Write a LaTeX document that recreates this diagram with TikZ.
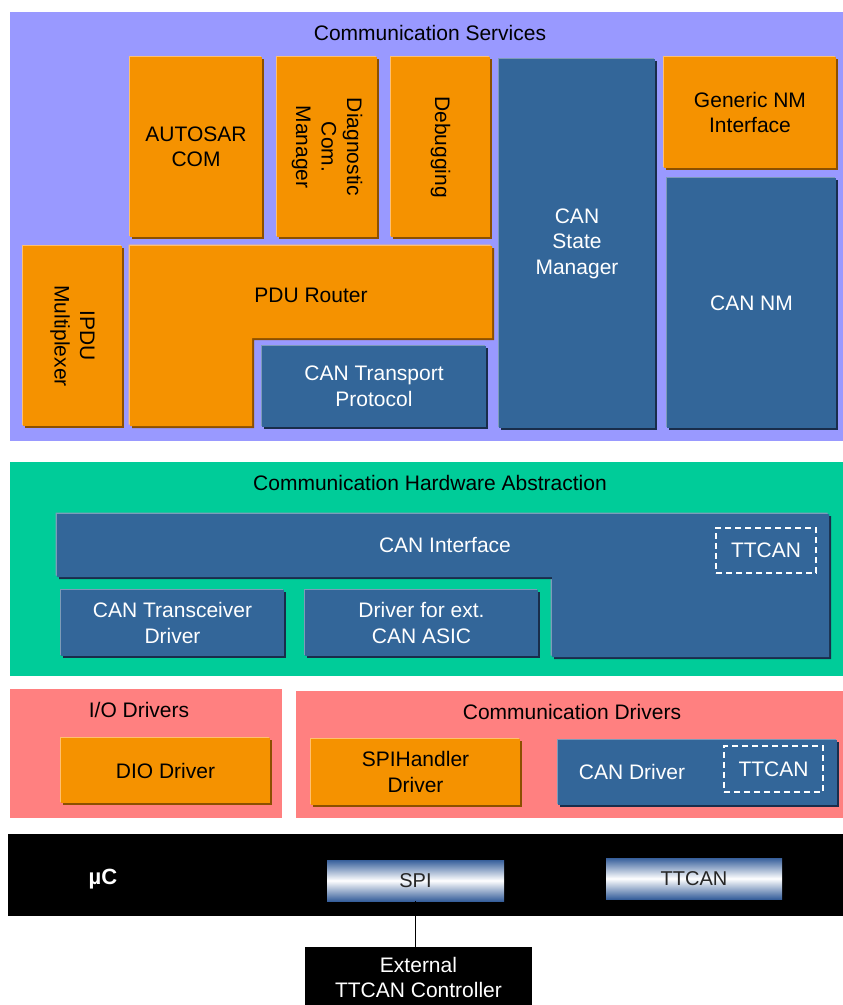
\documentclass[tikz,border=0pt]{standalone}
\usepackage{fontspec}
\setmainfont{Liberation Sans}
\usetikzlibrary{shadows,positioning}
\definecolor{svcpurple}{RGB}{153,153,255}
\definecolor{hwgreen}{RGB}{0,204,153}
\definecolor{drvpink}{RGB}{255,128,128}
\definecolor{swcorange}{RGB}{245,146,0}
\definecolor{orangelight}{RGB}{255,192,110}
\definecolor{orangedark}{RGB}{140,80,0}
\definecolor{swcblue}{RGB}{51,102,153}
\definecolor{bluelight}{RGB}{125,155,185}
\definecolor{bluedark}{RGB}{25,45,75}
\definecolor{chipblue}{RGB}{55,95,155}
\begin{document}
\begin{tikzpicture}[x=1pt,y=-1pt,
    every node/.style={font=\fontsize{21}{25.5}\selectfont,align=center,inner sep=0pt},
    sized/.style 2 args={minimum width=#1pt,minimum height=#2pt},
    orangebox/.style={fill=swcorange,text=black,
        general shadow={shadow xshift=-1.5pt,shadow yshift=1.5pt,fill=orangelight},
        general shadow={shadow xshift=2pt,shadow yshift=-2pt,fill=orangedark}},
    bluebox/.style={fill=swcblue,text=white,
        general shadow={shadow xshift=-1.5pt,shadow yshift=1.5pt,fill=bluelight},
        general shadow={shadow xshift=2pt,shadow yshift=-2pt,fill=bluedark}},
    ttcanframe/.style={draw=white,line width=1.5pt,dash pattern=on 6pt off 4pt,text=white},
    chip/.style={top color=chipblue,bottom color=chipblue,middle color=white,text=black!85}]
  \useasboundingbox (0,0) rectangle (843,1005);

  % layers
  \node[fill=svcpurple,sized={833}{429}] (services) at (426.5,226.5) {};
  \node (serviceslbl) at (430,33) {Communication Services};
  \node[fill=hwgreen,sized={833}{214}] (hwabs) at (426.5,569) {};
  \node (hwabslbl) at (430,483) {Communication Hardware Abstraction};
  \node[fill=drvpink,sized={272}{129}] (iodrv) at (146,753.5) {};
  \node (iodrvlbl) at (139,710) {I/O Drivers};
  \node[fill=drvpink,sized={547}{127}] (commdrv) at (569.5,754.5) {};
  \node (commdrvlbl) at (572,712) {Communication Drivers};
  \node[fill=black,sized={835}{82}] (uc) at (425.5,875) {};

  % communication services
  \node[orangebox,sized={132}{180}] (autosarcom) at (196,147) {AUTOSAR\\COM};
  \node[orangebox,sized={100}{180}] (dcm) at (327,147) {};
  \node[rotate=-90] (dcmlbl) at (dcm) {Diagnostic\\Com.\\Manager};
  \node[orangebox,sized={99}{180}] (debugging) at (440.5,147) {};
  \node[rotate=-90] (debugginglbl) at (debugging) {Debugging};
  \node[orangebox,sized={172}{111}] (genericnm) at (750,112.5) {Generic NM\\Interface};
  \node[orangebox,sized={99}{180}] (ipdum) at (72.5,336) {};
  \node[rotate=-90] (ipdumlbl) at (ipdum) {IPDU\\Multiplexer};
  \fill[orangebox] (130,246) -- (492,246) -- (492,338) -- (252,338) -- (252,426) -- (130,426) -- cycle;
  \node (pdurlbl) at (311,295) {PDU Router};
  \node[bluebox,sized={156}{369}] (cansm) at (577,243.5) {CAN\\State\\Manager};
  \node[bluebox,sized={169}{250}] (cannm) at (751.5,303) {CAN NM};
  \node[bluebox,sized={224}{81}] (cantp) at (374,386.5) {CAN Transport\\Protocol};

  % hardware abstraction
  \fill[bluebox] (57,514) -- (829,514) -- (829,657) -- (552,657) -- (552,577) -- (57,577) -- cycle;
  \node[text=white] (canifLbl) at (445,545) {CAN Interface};
  \node[ttcanframe,sized={100}{45}] (canifttcan) at (766,550.5) {TTCAN};
  \node[bluebox,sized={223}{66}] (cantrcv) at (172.5,623) {CAN Transceiver\\Driver};
  \node[bluebox,sized={233}{66}] (extasic) at (421.5,623) {Driver for ext.\\CAN ASIC};

  % drivers
  \node[orangebox,sized={209}{65}] (dio) at (165.5,770.5) {DIO Driver};
  \node[orangebox,sized={209}{66}] (spihandler) at (415.5,772) {SPIHandler\\Driver};
  \node[bluebox,sized={279}{65}] (candrv) at (697.5,772.5) {};
  \node[text=white] (candrvlbl) at (632,772) {CAN Driver};
  \node[ttcanframe,sized={99}{46}] (candrvttcan) at (773.5,769) {TTCAN};

  % microcontroller
  \node[text=white,font=\fontsize{22}{26}\selectfont\bfseries] (uclbl) at (103,879) {µC};
  \node[chip,sized={177}{41},font=\fontsize{20}{24}\selectfont] (spi) at (415.5,880.5) {SPI};
  \node[chip,sized={176}{41},font=\fontsize{20}{24}\selectfont] (ttcan) at (694,878.5) {TTCAN};
  \node[fill=black,text=white,sized={227}{61}] (extctrl) at (418.5,977.5) {External\\TTCAN Controller};
  \draw[line width=1.5pt] (spi.south) -- (spi.south |- extctrl.north);
\end{tikzpicture}
\end{document}
